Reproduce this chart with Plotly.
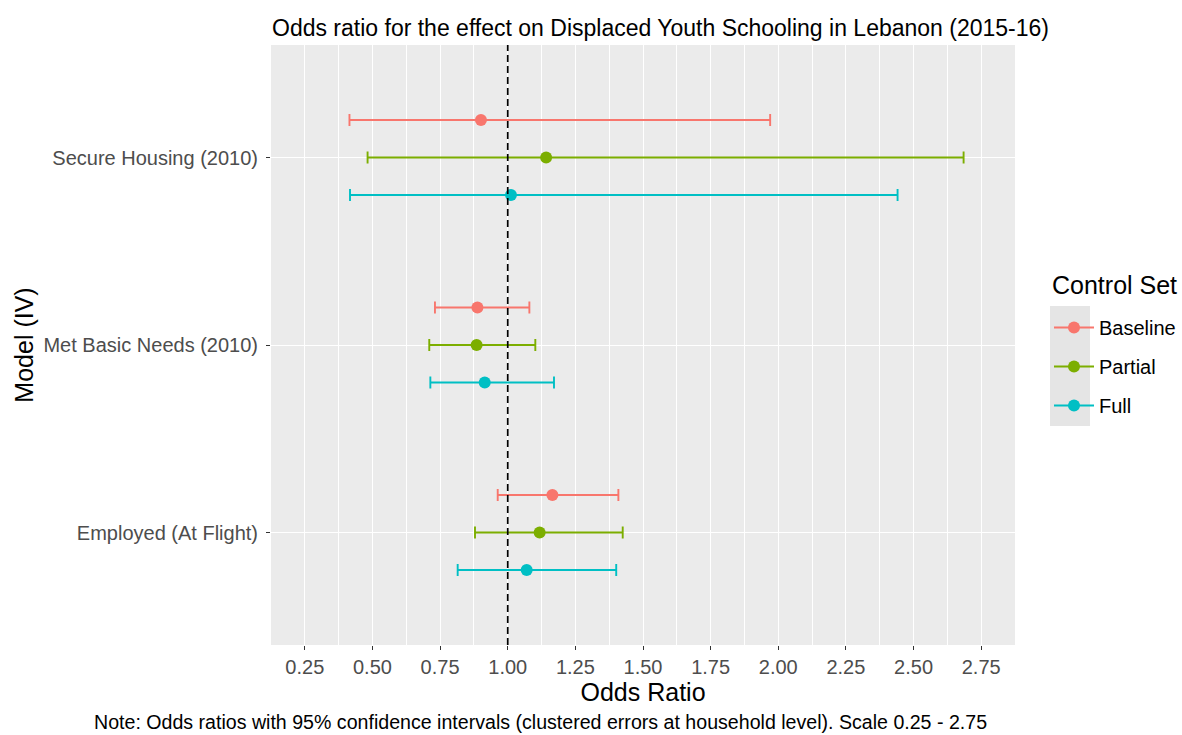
import plotly.graph_objects as go

models = ["Employed (At Flight)", "Met Basic Needs (2010)", "Secure Housing (2010)"]
control_sets = ["Baseline", "Partial", "Full"]
colors = ["#F8766D", "#7CAE00", "#00BFC4"]

# odds ratios per control set, ordered as models
or_baseline = [1.165, 0.888, 0.901]
or_partial = [1.118, 0.885, 1.142]
or_full = [1.070, 0.915, 1.012]

lo_baseline = [0.963, 0.731, 0.415]
lo_partial = [0.879, 0.710, 0.482]
lo_full = [0.815, 0.714, 0.417]

hi_baseline = [1.409, 1.080, 1.970]
hi_partial = [1.425, 1.102, 2.685]
hi_full = [1.401, 1.171, 2.441]

x_ticks = [0.25, 0.50, 0.75, 1.00, 1.25, 1.50, 1.75, 2.00, 2.25, 2.50, 2.75]

ors = [or_baseline, or_partial, or_full]
los = [lo_baseline, lo_partial, lo_full]
his = [hi_baseline, hi_partial, hi_full]
dodge = [0.2, 0.0, -0.2]

# panel geometry (pixels)
W, H = 1182, 735
PL, PR, PT, PB = 271, 1015, 45, 645
PW, PH = PR - PL, PB - PT


def px(xp):
    return (xp - PL) / PW


def py(yp):
    return (PB - yp) / PH


fig = go.Figure()
for i, name in enumerate(control_sets):
    ys = [k + 1 + dodge[i] for k in range(len(models))]
    fig.add_trace(go.Scatter(
        x=ors[i], y=ys, mode="markers", showlegend=False,
        marker=dict(color=colors[i], size=12),
        error_x=dict(type="data", symmetric=False,
                     array=[h - o for h, o in zip(his[i], ors[i])],
                     arrayminus=[o - l for o, l in zip(ors[i], los[i])],
                     color=colors[i], thickness=1.9, width=6),
        hoverinfo="x+y", name=name))
for i, name in enumerate(control_sets):
    fig.add_trace(go.Scatter(
        x=[None], y=[None], mode="lines+markers", name=name,
        legendgroup=name,
        marker=dict(color=colors[i], size=12),
        line=dict(color=colors[i], width=1.9)))

fig.add_shape(type="line", xref="x", yref="paper", x0=1, x1=1, y0=0, y1=1,
              line=dict(color="black", width=1.7, dash="7px,4px"))
fig.add_shape(type="rect", xref="paper", yref="paper",
              x0=px(1050), x1=px(1090), y0=py(426), y1=py(306),
              fillcolor="#E5E5E5", line=dict(width=0), layer="below")

fig.update_layout(
    width=W, height=H,
    margin=dict(l=PL, r=W - PR, t=PT, b=H - PB, autoexpand=False),
    paper_bgcolor="white", plot_bgcolor="#EBEBEB",
    font=dict(family="Liberation Sans, Arial, sans-serif", color="#4D4D4D", size=20),
    title=dict(text="Odds ratio for the effect on Displaced Youth Schooling in Lebanon (2015-16)",
               x=272 / W, xanchor="left", y=1 - 28 / H, yanchor="middle",
               font=dict(size=23, color="black")),
    xaxis=dict(range=[0.125, 2.875], tickvals=x_ticks,
               ticktext=[f"{v:.2f}" for v in x_ticks],
               showgrid=True, gridcolor="white", gridwidth=1.3,
               zeroline=False, ticks="outside", ticklen=4, tickcolor="#333333",
               tickfont=dict(size=20, color="#4D4D4D"),
               minor=dict(tick0=0.125, dtick=0.25, showgrid=True,
                          gridcolor="white", gridwidth=0.6, ticks=""),
               title=dict(text="Odds Ratio", font=dict(size=25, color="black"), standoff=2)),
    yaxis=dict(range=[0.4, 3.6], tickvals=[1, 2, 3], ticktext=models,
               showgrid=True, gridcolor="white", gridwidth=1.3,
               zeroline=False, ticks="outside", ticklen=4, tickcolor="#333333",
               tickfont=dict(size=20, color="#4D4D4D"), ticklabelstandoff=4,
               title=dict(text="Model (IV)", font=dict(size=25, color="black"), standoff=2)),
    legend=dict(x=px(1049), y=py(308), xanchor="left", yanchor="top",
                bgcolor="rgba(0,0,0,0)",
                font=dict(size=20, color="black"), itemwidth=40, tracegroupgap=10),
    annotations=[
        dict(text="Control Set", xref="paper", yref="paper", x=px(1050), y=py(285),
             xanchor="left", yanchor="middle", showarrow=False,
             font=dict(size=25, color="black")),
        dict(text="Note: Odds ratios with 95% confidence intervals (clustered errors at household level). Scale 0.25 - 2.75",
             xref="paper", yref="paper", x=px(540), y=py(722),
             xanchor="center", yanchor="middle", showarrow=False,
             font=dict(size=19.6, color="black"))],
)

fig.write_html("out.html", config={"displayModeBar": False},
               post_script="document.body.style.margin='0px';")
